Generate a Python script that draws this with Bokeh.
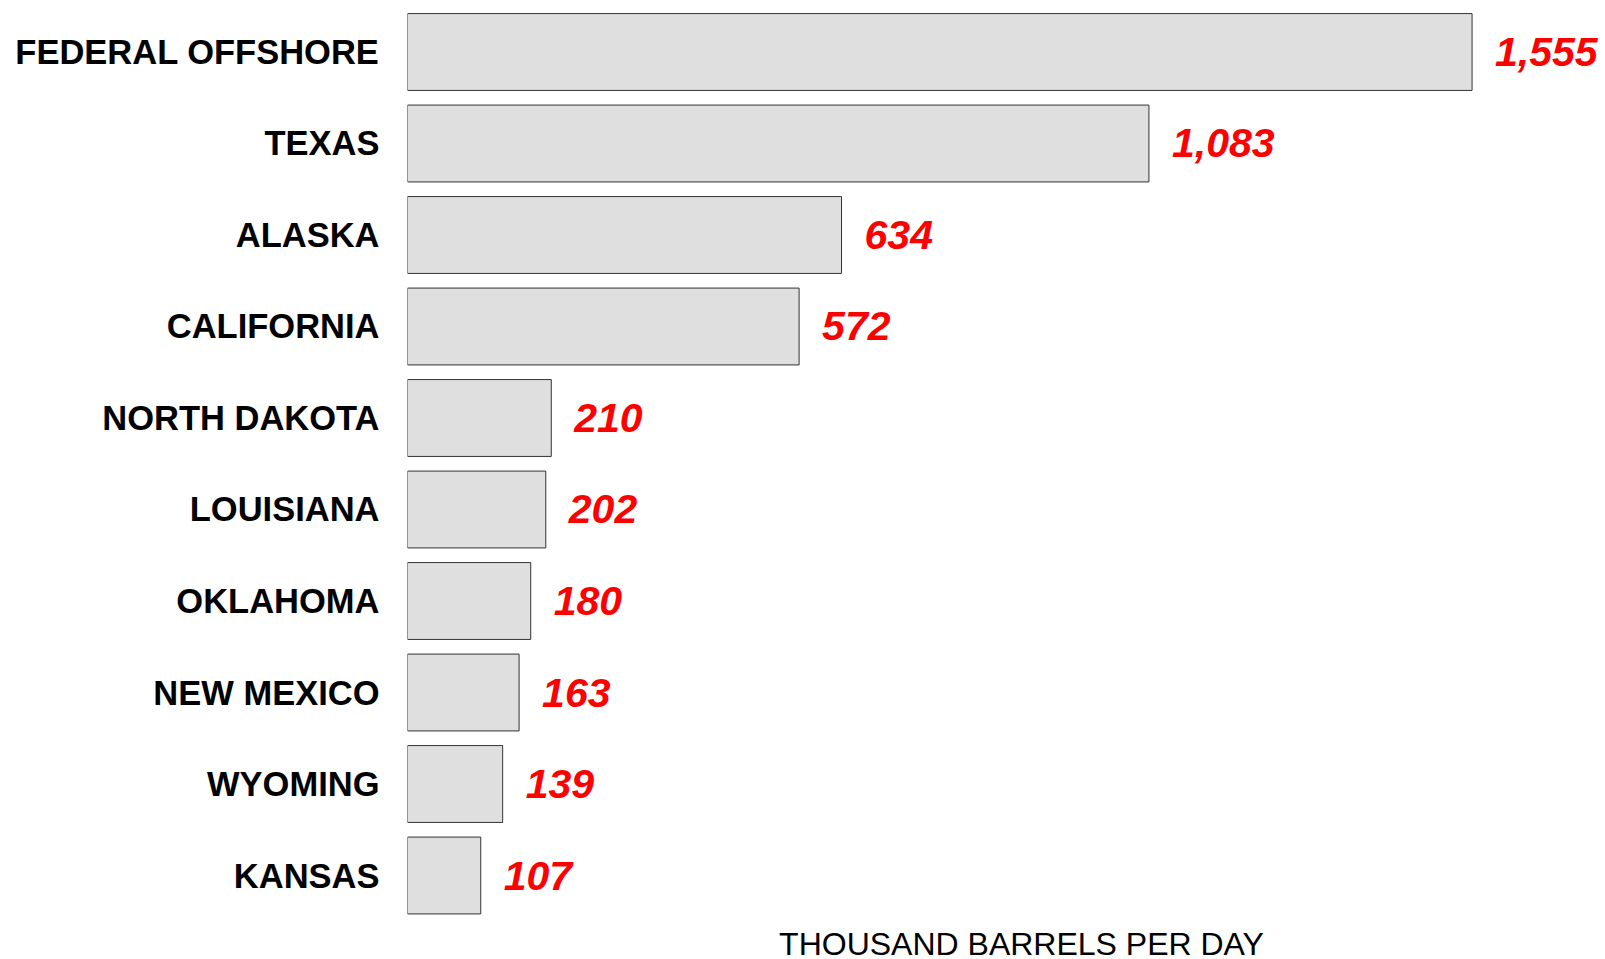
from bokeh.plotting import figure
from bokeh.models import Range1d, FixedTicker, Label, ColumnDataSource
from bokeh.core.properties import value
from bokeh.embed import file_html
from bokeh.resources import INLINE

# ---- data ----
states = ["FEDERAL OFFSHORE", "TEXAS", "ALASKA", "CALIFORNIA", "NORTH DAKOTA",
          "LOUISIANA", "OKLAHOMA", "NEW MEXICO", "WYOMING", "KANSAS"]
production = [1555, 1083, 634, 572, 210, 202, 180, 163, 139, 107]
axis_title = "THOUSAND BARRELS PER DAY"

positions = list(range(len(states)))
labels = [f"{v:,}" for v in production]

src = ColumnDataSource(dict(y=positions, right=production, label=labels))

FONT = "Liberation Sans"

p = figure(width=1600, height=959, output_backend="svg", toolbar_location=None,
           x_range=Range1d(0, 1742.6), y_range=Range1d(9.918, -0.5628),
           x_axis_location=None, y_axis_location="left",
           min_border_left=407, min_border_right=0, min_border_top=0,
           min_border_bottom=0)
p.outline_line_color = None
p.grid.visible = False
p.background_fill_color = "white"
p.border_fill_color = "white"

p.hbar(y="y", left=0, right="right", height=0.84, source=src,
       fill_color="#DFDFDF", line_color="#333333", line_width=1)

p.text(x="right", y="y", text="label", source=src, x_offset=23,
       text_baseline="middle", text_align="left",
       text_font=value(FONT), text_font_style="bold italic",
       text_font_size="41px", text_color="#FF0000")

yax = p.yaxis[0]
yax.ticker = FixedTicker(ticks=positions)
yax.major_label_overrides = {i: s for i, s in zip(positions, states)}
yax.major_label_text_font = FONT
yax.major_label_text_font_style = "bold"
yax.major_label_text_font_size = "34.5px"
yax.major_label_text_color = "black"
yax.major_label_standoff = 22
yax.axis_line_color = None
yax.major_tick_line_color = None
yax.minor_tick_line_color = None

p.add_layout(Label(x=614, y=16, x_units="screen", y_units="screen",
                   text=axis_title, text_align="center",
                   text_baseline="alphabetic", text_font=FONT,
                   text_font_size="32px", text_color="black"))

open("out.html", "w").write(file_html(p, INLINE))
